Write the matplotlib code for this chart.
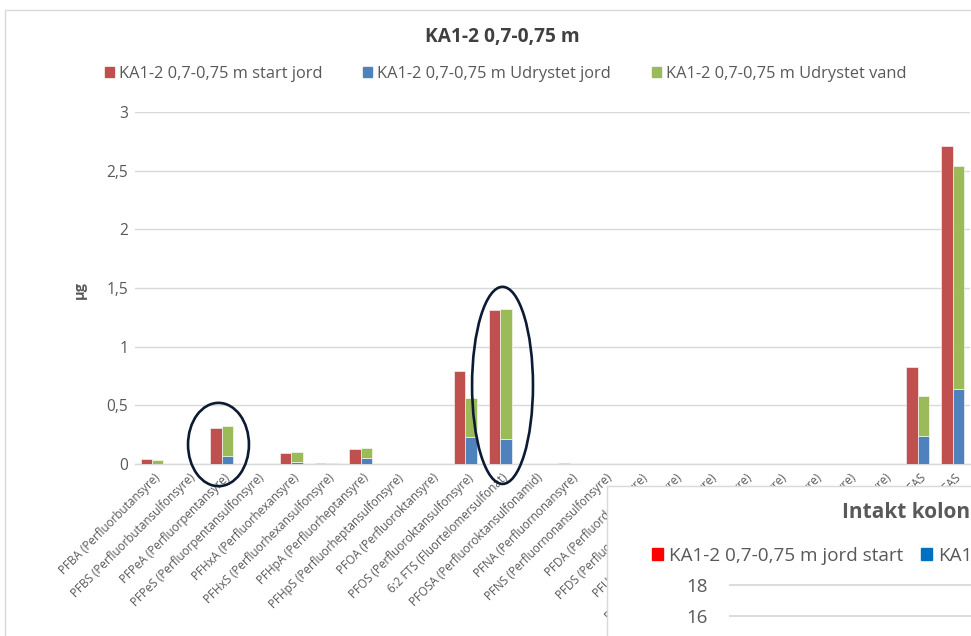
import matplotlib
matplotlib.use("Agg")
import matplotlib.pyplot as plt
from matplotlib.patches import Ellipse, Rectangle, Patch
from matplotlib.transforms import ScaledTranslation
import numpy as np

plt.rcParams['font.family'] = ['Open Sans', 'DejaVu Sans']

# ---- data -------------------------------------------------------------
categories = [
    "PFBA (Perfluorbutansyre)",
    "PFBS (Perfluorbutansulfonsyre)",
    "PFPeA (Perfluorpentansyre)",
    "PFPeS (Perfluorpentansulfonsyre)",
    "PFHxA (Perfluorhexansyre)",
    "PFHxS (Perfluorhexansulfonsyre)",
    "PFHpA (Perfluorheptansyre)",
    "PFHpS (Perfluorheptansulfonsyre)",
    "PFOA (Perfluoroktansyre)",
    "PFOS (Perfluoroktansulfonsyre)",
    "6:2 FTS (Fluortelomersulfonat)",
    "PFOSA (Perfluoroktansulfonamid)",
    "PFNA (Perfluornonansyre)",
    "PFNS (Perfluornonansulfonsyre)",
    "PFDA (Perfluordekansyre)",
    "PFDS (Perfluordekansulfonsyre)",
    "PFUnDA (Perfluorundekansyre)",
    "PFUnDS (Perfluorundekansulfonsyre)",
    "PFDoDA (Perfluordodekansyre)",
    "PFDoDS (Perfluordodekansulfonsyre)",
    "PFTrDA (Perfluortridekansyre)",
    "PFTrDS (Perfluortridekansulfonsyre)",
    "Sum af 4 PFAS",
    "Sum af 22 PFAS",
]
start_jord = [0.04, 0, 0.31, 0, 0.09, 0.01, 0.13, 0, 0, 0.79, 1.31, 0,
              0.01, 0, 0, 0, 0, 0, 0, 0, 0, 0, 0.83, 2.71]
udrystet_jord = [0, 0, 0.065, 0, 0.02, 0, 0.05, 0, 0, 0.23, 0.21, 0,
                 0, 0, 0, 0, 0, 0, 0, 0, 0, 0, 0.24, 0.64]
udrystet_vand = [0.03, 0, 0.26, 0, 0.08, 0.008, 0.085, 0, 0, 0.33, 1.11, 0,
                 0, 0, 0, 0, 0, 0, 0, 0, 0, 0, 0.34, 1.90]
series_names = ["KA1-2 0,7-0,75 m start jord",
                "KA1-2 0,7-0,75 m Udrystet jord",
                "KA1-2 0,7-0,75 m Udrystet vand"]
y_ticks = [0, 0.5, 1, 1.5, 2, 2.5, 3]
y_tick_labels = ["0", "0,5", "1", "1,5", "2", "2,5", "3"]

# second chart, only its upper-left corner is in view
inset_title = "Intakt kolon"
inset_series = ["KA1-2 0,7-0,75 m jord start", "KA1"]
inset_y_ticks = [16, 18]

# ---- style --------------------------------------------------------------
RED, BLUE, GREEN = "#c0504d", "#4f81bd", "#9bbb59"
INSET_RED, INSET_BLUE = "#ff0000", "#0070c0"
TEXT = "#595959"
GRID = "#d9d9d9"
RING = "#0c1a33"

W, H = 971, 636
fig = plt.figure(figsize=(W / 100, H / 100), dpi=100)
fig.patch.set_facecolor("white")


def fx(px):
    return px / W


def fy(py):
    return 1 - py / H


# chart frame
fig.add_artist(Rectangle((fx(5), -0.1), 1.2, fy(9.5) + 0.1,
                         transform=fig.transFigure, fill=False,
                         ec=GRID, lw=1.0))

# ---- main chart ------------------------------------------------------------
ax = fig.add_axes([fx(134.6), fy(464), fx(970) - fx(134.6), fy(112) - fy(464)])
x = np.arange(len(categories))
bw = 0.33
ax.bar(x - bw / 2, start_jord, bw, color=RED, ec="white", lw=0.4, zorder=3)
ax.bar(x + bw / 2, udrystet_jord, bw, color=BLUE, ec="white", lw=0.4, zorder=3)
ax.bar(x + bw / 2, udrystet_vand, bw, bottom=udrystet_jord, color=GREEN,
       ec="white", lw=0.4, zorder=3)

ax.set_xlim(-0.5, len(categories) - 0.5)
ax.set_ylim(0, 3)
ax.set_yticks(y_ticks)
ax.set_yticklabels(y_tick_labels)
ax.yaxis.grid(True, color=GRID, lw=1.0, zorder=0)
ax.set_axisbelow(True)
for s in ("top", "right", "left"):
    ax.spines[s].set_visible(False)
ax.spines["bottom"].set_color(GRID)
ax.spines["bottom"].set_linewidth(1.0)
ax.tick_params(axis="y", length=0, pad=4.5, labelsize=11.2, labelcolor=TEXT)
ax.tick_params(axis="x", length=0, pad=8.5, labelsize=8.4, labelcolor=TEXT)

ax.set_xticks(x)
ax.set_xticklabels(categories, rotation=45, ha="right", va="center",
                   rotation_mode="anchor")
shift = ScaledTranslation(6 / 100, 0, fig.dpi_scale_trans)
for lab in ax.get_xticklabels():
    lab.set_transform(lab.get_transform() + shift)

ax.set_ylabel("µg", fontsize=10.5, fontweight="bold", color=TEXT)
ax.yaxis.set_label_coords(-0.057, 0.494)

# highlight rings
ax.add_patch(Ellipse((1.91, 0.166), 1.75, 0.71, fill=False, ec=RING,
                     lw=1.9, clip_on=False, zorder=6))
ax.add_patch(Ellipse((10.07, 0.67), 1.75, 1.68, fill=False, ec=RING,
                     lw=1.9, clip_on=False, zorder=6))

fig.text(fx(502), fy(37), "KA1-2 0,7-0,75 m", ha="center", va="center",
         fontsize=13.8, fontweight="bold", color="#404040")

handles = [Patch(color=c) for c in (RED, BLUE, GREEN)]
fig.legend(handles, series_names, ncol=3, loc="center",
           bbox_to_anchor=(fx(505.5), fy(74)), frameon=False,
           fontsize=11.8, labelcolor=TEXT, handlelength=0.55,
           handleheight=0.55, handletextpad=0.3, columnspacing=2.5)

# ---- second chart placed on top ---------------------------------------------
ax2 = fig.add_axes([fx(606.5), -0.1, 0.6, fy(486) + 0.1])
ax2.set_zorder(5)
ax2.set_facecolor("white")
ax2.set_xticks([])
ax2.set_yticks([])
for s in ax2.spines.values():
    s.set_color(GRID)
    s.set_linewidth(1.0)

ax2.text(fx(970), fy(513), inset_title, transform=fig.transFigure,
         ha="right", va="center", fontsize=15, fontweight="bold",
         color=TEXT)

inset_handles = [Patch(color=c) for c in (INSET_RED, INSET_BLUE)]
ax2.legend(inset_handles, inset_series, ncol=2, loc="center left",
           bbox_to_anchor=(fx(652), fy(556)), bbox_transform=fig.transFigure,
           frameon=False, borderpad=0, borderaxespad=0,
           prop={"size": 13.6}, labelcolor=TEXT, handlelength=0.58,
           handleheight=0.58, handletextpad=0.32, columnspacing=0.95)

ax3 = fig.add_axes([fx(729), 0, 0.4, fy(581)])
ax3.set_zorder(6)
ax3.patch.set_visible(False)
ax3.set_ylim(18 - 51 / 15.5, 18 + 4 / 15.5)
ax3.set_xticks([])
ax3.set_yticks(inset_y_ticks)
ax3.yaxis.grid(True, color=GRID, lw=1.3)
for s in ax3.spines.values():
    s.set_visible(False)
ax3.tick_params(axis="y", length=0, pad=15, labelsize=13.5, labelcolor=TEXT)

fig.savefig("out.png", dpi=100, facecolor="white")
